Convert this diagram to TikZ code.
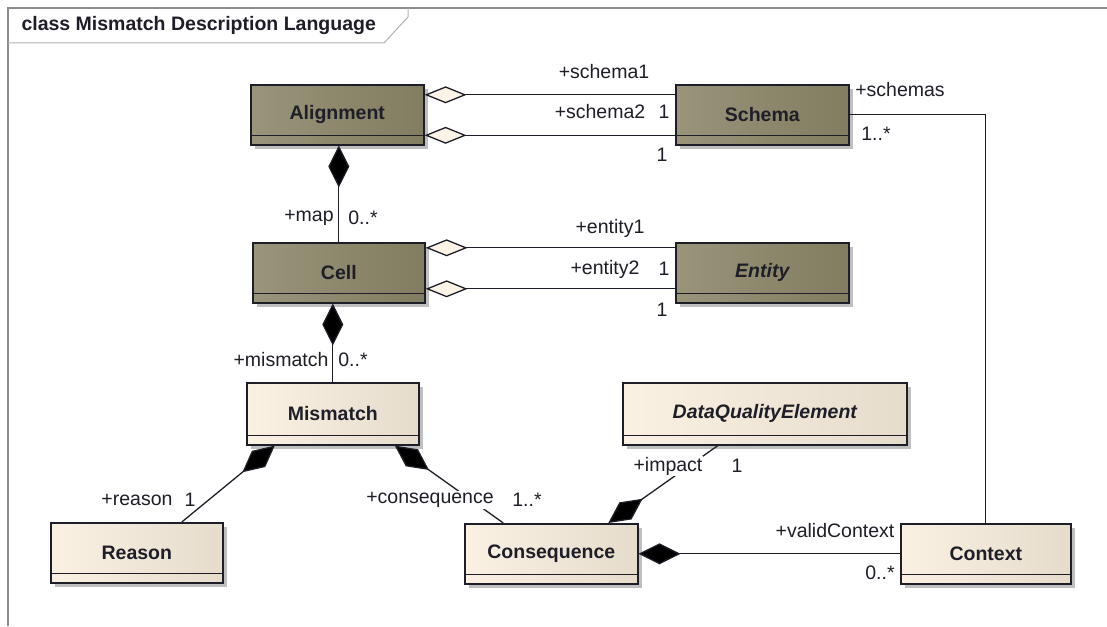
\documentclass[tikz,border=0pt]{standalone}
\usepackage{fontspec}
\setmainfont{Liberation Sans}
\usetikzlibrary{arrows.meta,shadows}

\definecolor{umldark}{HTML}{99947A}
\definecolor{umldarkend}{HTML}{827C60}
\definecolor{umllight}{HTML}{FAF1E3}
\definecolor{umllightend}{HTML}{E6DCCC}
\definecolor{diafill}{HTML}{FAF3E6}
\definecolor{framegray}{HTML}{8C8C8C}
\definecolor{ink}{HTML}{1E1E28}

\newcommand{\lblsize}{\fontsize{19.5}{21}\selectfont}

\tikzset{
  classbox/.style={draw=ink, line width=1.6pt, anchor=north west, inner sep=0pt,
    font=\lblsize\bfseries, text=ink, minimum height=60pt,
    drop shadow={shadow xshift=4pt, shadow yshift=-4pt, fill=black!25, opacity=1}},
  darkclass/.style={classbox, left color=umldark, right color=umldarkend},
  lightclass/.style={classbox, left color=umllight, right color=umllightend},
  conn/.style={line width=1.3pt, draw=ink},
  aggr/.style={conn, arrows={Diamond[fill=diafill, length=42pt, width=17pt]-}},
  comp/.style={conn, arrows={Diamond[fill=black, length=42pt, width=21pt]-}},
  role/.style={font=\lblsize, text=ink, fill=white, inner sep=1pt},
}

\begin{document}
\begin{tikzpicture}[x=1pt, y=-1pt]
  \useasboundingbox (0,0) rectangle (1107,626);

  % diagram frame and title tab
  \draw[framegray, line width=2pt] (8,626) -- (8,8) -- (1107,8);
  \draw[gray!60, line width=1pt] (8,43) -- (384,43) -- (408,17) -- (408,8);
  \node[anchor=west, font=\lblsize\bfseries, text=ink] (title) at (18,26)
    {class Mismatch Description Language};

  % classes
  \node[darkclass, minimum width=173pt] (alignment) at (250,84) {Alignment};
  \node[darkclass, minimum width=173pt] (schema) at (675,84) {Schema};
  \node[darkclass, minimum width=172pt] (cell) at (252,242) {Cell};
  \node[darkclass, minimum width=173pt, font=\lblsize\bfseries\itshape] (entity) at (675,242) {Entity};
  \node[lightclass, minimum width=172pt, minimum height=62pt] (mismatch) at (246,382) {Mismatch};
  \node[lightclass, minimum width=284pt, minimum height=62pt, font=\lblsize\bfseries\itshape] (dqe) at (622,382) {DataQualityElement};
  \node[lightclass, minimum width=172pt] (reason) at (50,522) {Reason};
  \node[lightclass, minimum width=173pt] (consequence) at (464,523) {Consequence};
  \node[lightclass, minimum width=170pt] (context) at (900,523) {Context};

  % empty attribute compartments
  \foreach \cls in {alignment,schema,cell,entity,mismatch,dqe,reason,consequence,context}
    \draw[ink, line width=1.6pt] ([yshift=10pt]\cls.south west) -- ([yshift=10pt]\cls.south east);

  % associations
  \draw[aggr] ([yshift=20pt]alignment.east) -- ([yshift=20pt]schema.west);
  \draw[aggr] ([yshift=-20.5pt]alignment.east) -- ([yshift=-20.5pt]schema.west);
  \draw[aggr] ([yshift=25pt]cell.east) -- ([yshift=25pt]entity.west);
  \draw[aggr] ([yshift=-16pt]cell.east) -- ([yshift=-16pt]entity.west);
  \draw[comp] (alignment.south -| cell.north) -- (cell.north);
  \draw[comp] (cell.south -| mismatch.north) -- (mismatch.north);
  \draw[comp] ([xshift=-58pt]mismatch.south) -- ([xshift=45pt]reason.north);
  \draw[comp] ([xshift=62pt]mismatch.south) -- ([xshift=-48pt]consequence.north);
  \draw[comp] ([xshift=57pt]consequence.north) -- ([xshift=-47pt]dqe.south);
  \draw[comp] (consequence.east) -- (context.west);
  \draw[conn] (schema.east) -| (context.north);

  % role names and multiplicities
  \node[role] (r-schema1) at (604,72) {+schema1};
  \node[role] (r-schema2) at (600,112) {+schema2};
  \node[role] (m-schema1) at (664,112) {1};
  \node[role] (m-schema2) at (662,155) {1};
  \node[role] (r-schemas) at (900,90) {+schemas};
  \node[role] (m-schemas) at (876,134) {1..*};
  \node[role] (r-map) at (309,218) {+map};
  \node[role] (m-map) at (363,218) {0..*};
  \node[role] (r-entity1) at (610,228) {+entity1};
  \node[role] (r-entity2) at (605,269) {+entity2};
  \node[role] (m-entity1) at (664,269) {1};
  \node[role] (m-entity2) at (662,310) {1};
  \node[role] (r-mismatch) at (281,360) {+mismatch};
  \node[role] (m-mismatch) at (353,360) {0..*};
  \node[role] (r-reason) at (137,500) {+reason};
  \node[role] (m-reason) at (190,500) {1};
  \node[role] (r-consequence) at (430,500) {+consequence};
  \node[role] (m-consequence) at (527,500) {1..*};
  \node[role] (r-impact) at (668,466) {+impact};
  \node[role] (m-impact) at (737,466) {1};
  \node[role] (r-context) at (835,531) {+validContext};
  \node[role] (m-context) at (880,573) {0..*};
\end{tikzpicture}
\end{document}
